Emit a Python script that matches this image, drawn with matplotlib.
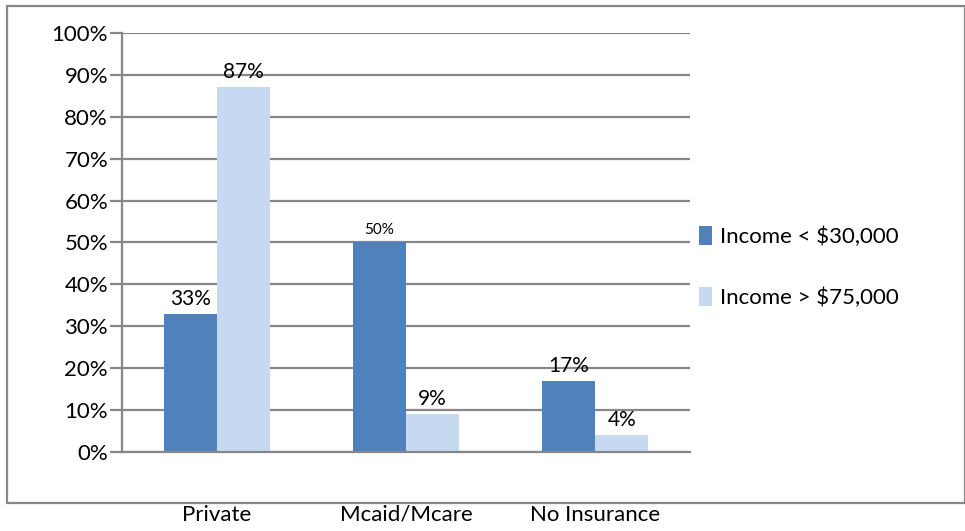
import matplotlib
matplotlib.use("Agg")
import matplotlib.pyplot as plt
from matplotlib.patches import Rectangle
from matplotlib.ticker import PercentFormatter

categories = ["Private", "Mcaid/Mcare", "No Insurance"]
low_income = [33, 50, 17]
high_income = [87, 9, 4]
series_names = ["Income < $30,000", "Income > $75,000"]
y_ticks = list(range(0, 101, 10))

DARK = "#4F81BD"
LIGHT = "#C6D9F0"
GRID = "#878787"

plt.rcParams["font.family"] = ["Lato", "DejaVu Sans"]

fig = plt.figure(figsize=(9.65, 5.31), dpi=100)
W, H = 965, 531
ax = fig.add_axes([122 / W, 1 - 452 / H, (690 - 122) / W, (452 - 33) / H])

x = list(range(len(categories)))
bw = 0.28
b1 = ax.bar([i - bw / 2 for i in x], low_income, bw, color=DARK, label=series_names[0], zorder=2)
b2 = ax.bar([i + bw / 2 for i in x], high_income, bw, color=LIGHT, label=series_names[1], zorder=2)

for rects, vals in [(b1, low_income), (b2, high_income)]:
    for r, v in zip(rects, vals):
        size = 11 if v == 50 else 15
        ax.text(r.get_x() + r.get_width() / 2, v + 1.2, f"{v}%", ha="center", va="bottom",
                fontsize=size, color="black", zorder=3)

ax.set_xlim(-0.5, len(categories) - 0.5)
ax.set_ylim(0, 100)
ax.set_yticks(y_ticks)
ax.yaxis.set_major_formatter(PercentFormatter(decimals=0))
ax.yaxis.grid(True, color=GRID, linewidth=1.6, zorder=1)
ax.set_axisbelow(True)
ax.tick_params(axis="y", length=9, width=1.6, color=GRID, labelsize=16, pad=1)
ax.tick_params(axis="x", length=0, labelsize=16, pad=38)
ax.set_xticks(x)
ax.set_xticklabels(categories)
for side in ["top", "right"]:
    ax.spines[side].set_visible(False)
ax.spines["left"].set_color(GRID)
ax.spines["left"].set_linewidth(1.6)
ax.spines["bottom"].set_color(GRID)
ax.spines["bottom"].set_linewidth(1.6)

ax.legend(loc="upper left", bbox_to_anchor=(1.0, 0.56), frameon=False,
          fontsize=16, handlelength=0.6, handleheight=0.9, handletextpad=0.35,
          labelspacing=1.8, borderaxespad=0)

# outer chart frame
fig.patches.append(Rectangle((7 / W, 1 - 503 / H), (W - 7) / W, (503 - 6) / H,
                             transform=fig.transFigure, fill=False,
                             edgecolor=GRID, linewidth=1.6))

fig.savefig("out.png", dpi=100)
